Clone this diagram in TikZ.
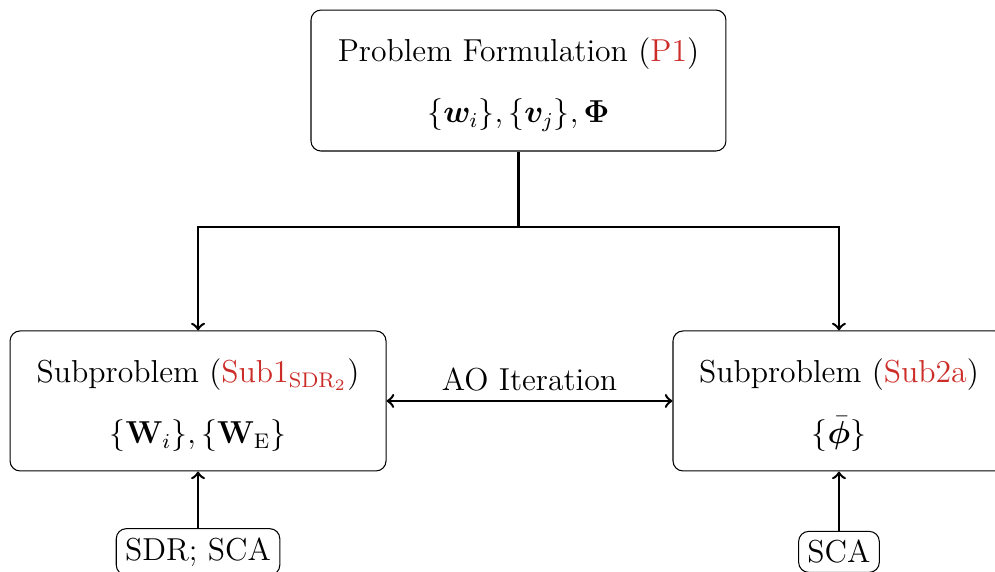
\documentclass[tikz,border=0pt]{standalone}
\usepackage{amsmath,amssymb,bm}
\definecolor{subred}{RGB}{204,45,40}
\begin{document}
\begin{tikzpicture}[line width=0.95pt, box_style/.style={draw,thin,rounded corners=3.8pt,align=center,font=\large},tool_style/.style={draw,thin,rounded corners=3.8pt,font=\large},edge_style/.style={draw=black,line width=0.95pt}]
      \useasboundingbox (0,0) rectangle (13.219,-7.588);
      \clip (0,0) rectangle (13.219,-7.588);
      \draw
        (6.888,-1.070) node[box_style,minimum width=5.513cm,minimum height=1.873cm] (prob){\rule{0pt}{12pt}Problem Formulation ({\color{subred}P1})\\[9pt] $\{\bm{w}_i\},\{\bm{v}_j\},\bm{\Phi}$}
        (2.631,-5.327) node[box_style,minimum width=4.995cm,minimum height=1.860cm] (sub1){\rule{0pt}{12pt}Subproblem ({\color{subred}Sub1$_{\text{SDR}_2}$})\\[9pt] $\{\mathbf{W}_i\},\{\mathbf{W}_{\mathrm{E}}\}$}
        (11.146,-5.327) node[box_style,minimum width=4.410cm,minimum height=1.860cm] (sub2){\rule{0pt}{12pt}Subproblem ({\color{subred}Sub2a})\\[9pt] $\{\bar{\bm{\phi}}\}$}
        (2.631,-7.332) node[tool_style] (sdr){SDR; SCA}
        (11.146,-7.332) node[tool_style] (sca){SCA};
      \coordinate (split) at (6.888,-3.015);
      \draw[edge_style] (prob) -- (split);
      \begin{scope}[->]
        \draw[edge_style] (split) -| (sub1);
        \draw[edge_style] (split) -| (sub2);
        \draw[edge_style] (sdr) to (sub1);
        \draw[edge_style] (sca) to (sub2);
        \draw[edge_style,<->] (sub1) to node[above,font=\large]{AO Iteration} (sub2);
      \end{scope}
    \end{tikzpicture}
\end{document}
